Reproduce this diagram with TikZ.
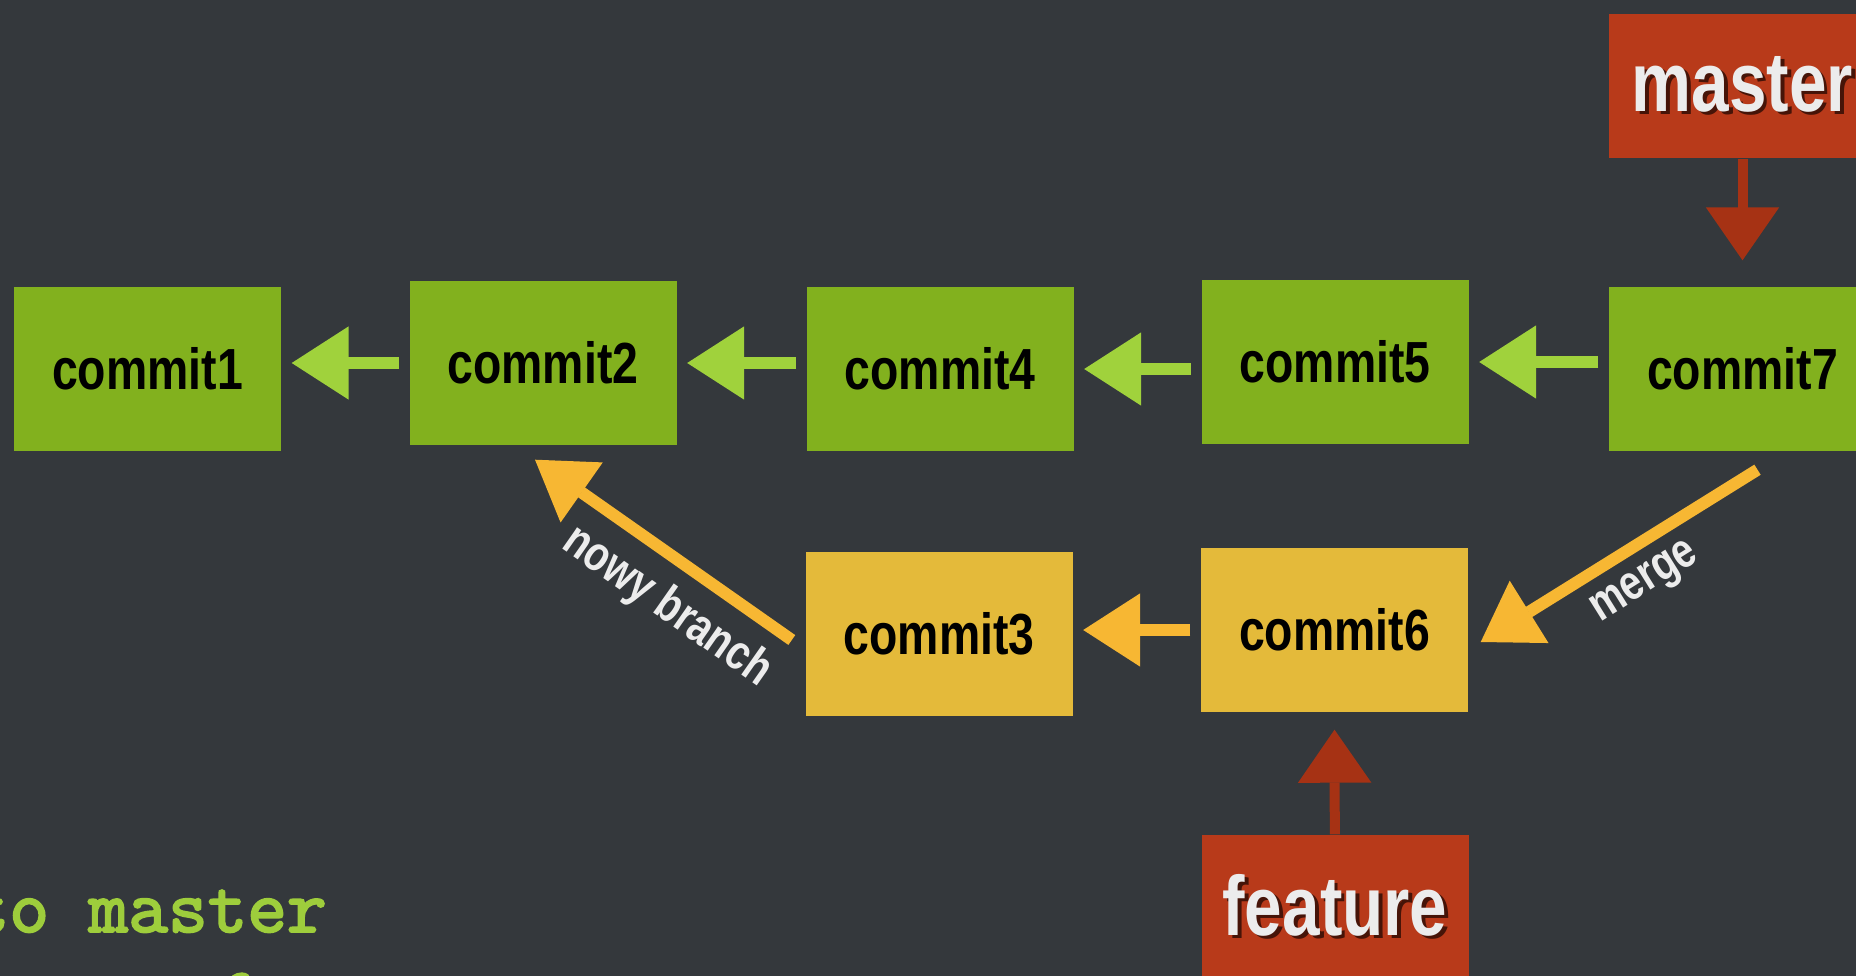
\documentclass[tikz,border=0pt]{standalone}
\usepackage{fontspec}
\setmainfont{Liberation Sans}
\newfontfamily\condfont[FakeStretch=0.8]{Liberation Sans}
\newfontfamily\codefont[FakeBold=2.5]{lmmono10-regular.otf}
\usetikzlibrary{arrows.meta}
\definecolor{board}{RGB}{52,56,60}
\definecolor{commitgreen}{RGB}{130,177,30}
\definecolor{commityellow}{RGB}{228,186,58}
\definecolor{chalkgreen}{RGB}{160,210,60}
\definecolor{chalkyellow}{RGB}{247,183,51}
\definecolor{tagred}{RGB}{184,58,26}
\definecolor{chalkred}{RGB}{166,50,20}
\definecolor{tagshadow}{RGB}{70,20,8}
\definecolor{labelwhite}{RGB}{236,236,236}
\definecolor{codegreen}{RGB}{158,205,60}
\newcommand{\boxW}{2.67}
\newcommand{\boxH}{1.64}
\newcommand{\tagH}{1.44}
\newcommand{\dropshadow}[1]{\makebox[0pt][l]{\kern1pt\raisebox{-1pt}{\textcolor{tagshadow}{#1}}}#1}

\tikzset{
  commit/.style={fill=commitgreen, inner sep=0pt, minimum width=\boxW cm, minimum height=\boxH cm,
    font=\condfont\bfseries\fontsize{16.5}{18}\selectfont, text=black},
  sidecommit/.style={commit, fill=commityellow},
  branchtag/.style={fill=tagred, inner sep=0pt, minimum width=\boxW cm, minimum height=\tagH cm,
    font=\condfont\bfseries\fontsize{24}{26}\selectfont, text=labelwhite},
  greenarrow/.style={draw=chalkgreen, line width=0.12cm, shorten <=0.1cm, shorten >=0.1cm,
    -{Triangle[length=0.57cm, width=0.73cm, line width=0.5pt]}},
  yellowarrow/.style={greenarrow, draw=chalkyellow},
  redarrow/.style={draw=chalkred, line width=0.1cm,
    -{Triangle[length=0.53cm, width=0.73cm, line width=0.5pt]}},
  chalklabel/.style={text=labelwhite, font=\condfont\bfseries\fontsize{14}{16}\selectfont},
  codeline/.style={text=codegreen, anchor=base west, inner sep=0pt,
    font=\codefont\fontsize{21.5}{24}\selectfont}
}

\begin{document}
\begin{tikzpicture}
\useasboundingbox (0,0) rectangle (18.56,-9.76);
\fill[board] (0,0) rectangle (18.56,-9.76);

% main line
\node[commit] at (1.475,-3.69) (c1) {commit1};
\node[commit] at (5.43,-3.63) (c2) {commit2};
\node[commit] at (9.40,-3.69) (c4) {commit4};
\node[commit] at (13.35,-3.62) (c5) {commit5};
\node[commit] at (17.425,-3.69) (c7) {commit7};

% feature line
\node[sidecommit] at (9.39,-6.34) (c3) {commit3};
\node[sidecommit] at (13.345,-6.30) (c6) {commit6};

\node[branchtag] at (17.425,-0.86) (master) {\dropshadow{master}};
\node[branchtag] at (13.35,-9.07) (feature) {\dropshadow{feature}};

\draw[greenarrow] (c2.west) -- (c2.west -| c1.east);
\draw[greenarrow] (c4.west |- c2.east) -- (c2.east);
\draw[greenarrow] (c5.west |- c4.east) -- (c4.east);
\draw[greenarrow] (c7.west |- c5.east) -- (c5.east);
\draw[yellowarrow] (c6.west) -- (c6.west -| c3.east);

\draw[yellowarrow, shorten <=0pt, shorten >=0pt] ([shift={(-0.13,-0.06)}]c3.west) -- ([shift={(-0.08,-0.14)}]c2.south);
\draw[yellowarrow, shorten <=0pt, shorten >=0pt] ([shift={(0.15,-0.18)}]c7.south) -- ([shift={(0.12,-0.12)}]c6.east);
\node[chalklabel, rotate=-35] at (6.67,-6.07) (nowy) {nowy branch};
\node[chalklabel, rotate=32] at (16.46,-5.84) (merge) {merge};

\draw[redarrow] (master) -- ([yshift=0.26cm]c7.north);
\draw[redarrow] (feature) -- ([yshift=-0.17cm]c6.south);

\node[codeline] at (-0.31,-9.32) (code1) {to master};
\node[codeline] at (2.15,-10.2) (code2) {feature};
\end{tikzpicture}
\end{document}
